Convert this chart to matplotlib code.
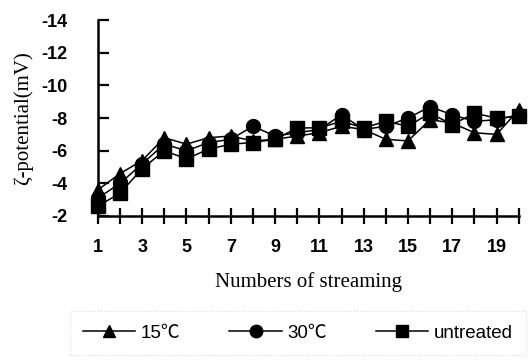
import numpy as np
import matplotlib.pyplot as plt

# zeta potential (mV) vs number of streaming passes
runs = np.arange(1, 21)
temp_15 = [-3.6, -4.6, -5.4, -6.8, -6.4, -6.8, -6.9, -6.6, -6.7, -6.9,
           -7.1, -7.5, -7.3, -6.7, -6.6, -7.9, -7.7, -7.1, -7.0, -8.5]
temp_30 = [-3.1, -4.0, -5.2, -6.4, -6.0, -6.5, -6.7, -7.5, -6.9, -7.1,
           -7.3, -8.2, -7.3, -7.5, -8.0, -8.7, -8.2, -7.8, -7.9, -8.2]
untreated = [-2.6, -3.4, -4.9, -6.0, -5.5, -6.1, -6.4, -6.5, -6.7, -7.4,
             -7.4, -7.8, -7.4, -7.8, -7.5, -8.3, -7.6, -8.3, -8.0, -8.1]

y_ticks = [-14, -12, -10, -8, -6, -4, -2]
x_labels = [1, 3, 5, 7, 9, 11, 13, 15, 17, 19]

sans = ['Liberation Sans', 'Noto Sans CJK SC', 'DejaVu Sans']
serif = ['Liberation Serif', 'DejaVu Serif']

fig = plt.figure(figsize=(5.32, 3.6), dpi=100)
ax = fig.add_axes([0.184, 0.40, 0.791, 0.544])

ax.plot(runs, temp_15, '-', color='black', lw=1.1, marker='^', ms=10,
        clip_on=False, label='15℃')
ax.plot(runs, temp_30, '-', color='black', lw=1.1, marker='o', ms=10,
        clip_on=False, label='30℃')
ax.plot(runs, untreated, '-', color='black', lw=1.1, marker='s', ms=10,
        clip_on=False, label='untreated')

ax.set_xlim(1, 20)
ax.set_ylim(-2, -14)
ax.spines['top'].set_visible(False)
ax.spines['right'].set_visible(False)
ax.spines['left'].set_linewidth(1.8)
ax.spines['bottom'].set_linewidth(1.8)

ax.set_xticks(runs)
ax.set_xticklabels([str(r) if r in x_labels else '' for r in runs])
ax.set_yticks(y_ticks)
ax.set_yticklabels([str(t) for t in y_ticks])
ax.tick_params(axis='x', direction='inout', length=11, width=1.6, pad=11,
               labelsize=13)
ax.tick_params(axis='y', direction='in', length=8, width=1.6, pad=22,
               labelsize=13)
for lbl in ax.get_xticklabels() + ax.get_yticklabels():
    lbl.set_family(sans)
    lbl.set_fontweight('bold')

ax.set_xlabel('Numbers of streaming', family=serif, fontsize=15, labelpad=12)
ax.set_ylabel('ζ-potential(mV)', family=serif, fontsize=15, labelpad=6)

leg = fig.legend(loc='center', bbox_to_anchor=(0.56, 0.075), ncol=3,
                 frameon=True, fancybox=False, handlelength=2.8,
                 columnspacing=2.6, handletextpad=0.3, markerscale=0.9,
                 borderpad=0.7, prop={'family': sans, 'size': 13.5})
leg.get_frame().set_edgecolor('#d4d4d4')
leg.get_frame().set_linestyle(':')
leg.get_frame().set_linewidth(0.8)

fig.savefig('out.png', dpi=100)
